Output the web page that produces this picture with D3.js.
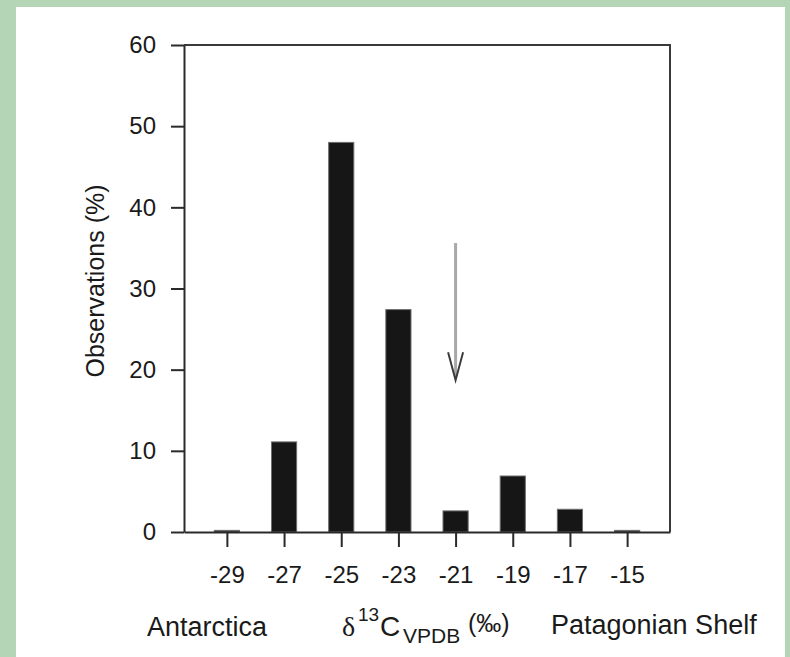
<!DOCTYPE html>
<html>
<head>
<meta charset="utf-8">
<script src="https://cdn.jsdelivr.net/npm/d3@7"></script>
<style>
  html, body { margin: 0; padding: 0; background: #b4d5b6; }
  svg { display: block; }
  text { font-family: "Liberation Sans", Arial, Helvetica, sans-serif; fill: #1a1a1a; }
</style>
</head>
<body>
<svg id="chart" width="790" height="657"></svg>
<script>
// δ13C bins (‰) and share of observations (%) in each bin
const binCentres = [-29, -27, -25, -23, -21, -19, -17, -15];
const observationPct = [0.2, 11.1, 48.0, 27.4, 2.6, 6.9, 2.8, 0.2];
const yTickValues = [0, 10, 20, 30, 40, 50, 60];
const xTickValues = [-29, -27, -25, -23, -21, -19, -17, -15];
// marker arrow: bin and its start / end on the % scale
const arrowBin = -21;
const arrowFromPct = 35.6;
const arrowToPct = 18.7;

const svg = d3.select("#chart");

// background panel
svg.append("rect").attr("x", 0).attr("y", 0).attr("width", 790).attr("height", 657)
  .attr("fill", "#b4d5b6");
svg.append("rect").attr("x", 16).attr("y", 7).attr("width", 769).attr("height", 650)
  .attr("fill", "#ffffff");

const plot = { left: 184, right: 670, top: 45, bottom: 532 };

const x = d3.scaleLinear().domain([-30.5, -13.5]).range([plot.left, plot.right]);
const y = d3.scaleLinear().domain([0, 60]).range([plot.bottom, plot.top]);

const halfBin = 0.44;

// bars
svg.append("g").selectAll("rect")
  .data(binCentres.map((c, i) => ({ c, v: observationPct[i] })))
  .join("rect")
  .attr("x", d => x(d.c - halfBin))
  .attr("width", d => x(d.c + halfBin) - x(d.c - halfBin))
  .attr("y", d => y(d.v))
  .attr("height", d => y(0) - y(d.v))
  .attr("fill", "#161616")
  .attr("stroke", "#6e6e6e")
  .attr("stroke-width", 1);

// frame (top and right sides)
svg.append("path")
  .attr("d", `M${plot.left},${plot.top}H${plot.right}V${plot.bottom}`)
  .attr("fill", "none").attr("stroke", "#3a3a3a").attr("stroke-width", 2);

// y axis
const yAxis = svg.append("g")
  .attr("transform", `translate(${plot.left},0)`)
  .call(d3.axisLeft(y).tickValues(yTickValues).tickSize(13).tickSizeOuter(0)
    .tickPadding(15).tickFormat(d => String(d)));
yAxis.select(".domain").attr("stroke", "#2a2a2a").attr("stroke-width", 2);
yAxis.selectAll(".tick line").attr("stroke", "#2a2a2a").attr("stroke-width", 2);
yAxis.selectAll(".tick text").attr("font-size", 24).attr("fill", "#1a1a1a")
  .attr("font-family", "Liberation Sans, Arial, sans-serif");

// x axis
const xAxis = svg.append("g")
  .attr("transform", `translate(0,${plot.bottom})`)
  .call(d3.axisBottom(x).tickValues(xTickValues).tickSize(15).tickSizeOuter(0)
    .tickPadding(19).tickFormat(d => String(d)));
xAxis.select(".domain").attr("stroke", "#2a2a2a").attr("stroke-width", 2);
xAxis.selectAll(".tick line").attr("stroke", "#2a2a2a").attr("stroke-width", 2);
xAxis.selectAll(".tick text").attr("font-size", 24).attr("fill", "#1a1a1a")
  .attr("font-family", "Liberation Sans, Arial, sans-serif");

// downward arrow over the -21 bin
const ax = x(arrowBin);
svg.append("line")
  .attr("x1", ax).attr("x2", ax)
  .attr("y1", y(arrowFromPct)).attr("y2", y(arrowToPct) - 2)
  .attr("stroke", "#a8a8a8").attr("stroke-width", 3);
svg.append("path")
  .attr("d", `M${ax - 7.5},${y(arrowToPct) - 28}L${ax},${y(arrowToPct)}L${ax + 7.5},${y(arrowToPct) - 28}`)
  .attr("fill", "none").attr("stroke", "#3c3c3c").attr("stroke-width", 2);

// y label
svg.append("text")
  .attr("transform", "translate(104,281) rotate(-90)")
  .attr("text-anchor", "middle")
  .attr("font-size", 25)
  .text("Observations (%)");

// x label with end-member names
svg.append("text").attr("x", 147).attr("y", 636).attr("font-size", 27).text("Antarctica");
svg.append("text").attr("x", 551).attr("y", 634).attr("font-size", 27).text("Patagonian Shelf");

const xl = svg.append("text").attr("y", 636);
xl.append("tspan").attr("x", 342).attr("y", 636).attr("font-size", 28)
  .style("font-family", "Liberation Serif, Times New Roman, serif").text("δ");
xl.append("tspan").attr("x", 358).attr("y", 621).attr("font-size", 19).text("13");
xl.append("tspan").attr("x", 380).attr("y", 636).attr("font-size", 28).text("C");
xl.append("tspan").attr("x", 403).attr("y", 643).attr("font-size", 21).text("VPDB");
xl.append("tspan").attr("x", 468).attr("y", 632).attr("font-size", 25).text("(‰)");
</script>
</body>
</html>
